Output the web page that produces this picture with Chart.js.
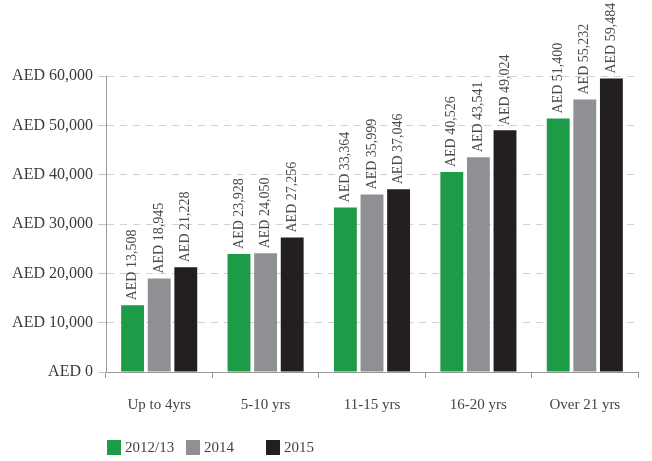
<!DOCTYPE html>
<html>
<head>
<meta charset="utf-8">
<script src="https://cdn.jsdelivr.net/npm/chart.js@4.4.1/dist/chart.umd.min.js"></script>
<style>
  html, body { margin: 0; padding: 0; background: #fff; }
  #wrap { position: relative; width: 652px; height: 461px; }
  #legend { position: absolute; left: 0; top: 0; width: 652px; height: 461px; pointer-events: none;
    font-family: "Liberation Serif", "DejaVu Serif", serif; font-size: 15px; color: #444; }
  .box { position: absolute; width: 14px; height: 15px; top: 440px; }
  .lbl { position: absolute; top: 439px; line-height: 17px; }
</style>
</head>
<body>
<div id="wrap">
  <canvas id="chart" width="652" height="461"></canvas>
  <div id="legend"></div>
</div>
<script>
  /* data */
  const categories = ["Up to 4yrs", "5-10 yrs", "11-15 yrs", "16-20 yrs", "Over 21 yrs"];
  const seriesNames = ["2012/13", "2014", "2015"];
  const values2012 = [13508, 23928, 33364, 40526, 51400];
  const values2014 = [18945, 24050, 35999, 43541, 55232];
  const values2015 = [21228, 27256, 37046, 49024, 59484];
  const yTicks = [0, 10000, 20000, 30000, 40000, 50000, 60000];

  const COLORS = ["#1e9b46", "#8f9094", "#231f20"];
  const FONT = "'Liberation Serif', 'DejaVu Serif', serif";
  const fmt = (v) => "AED " + new Intl.NumberFormat("en-US").format(v);

  // rotated value labels above each bar
  const barLabels = {
    id: "barLabels",
    afterDatasetsDraw(chart) {
      const ctx = chart.ctx;
      ctx.save();
      ctx.font = "14px " + FONT;
      ctx.fillStyle = "#4a4a4a";
      ctx.textAlign = "left";
      ctx.textBaseline = "middle";
      chart.data.datasets.forEach((ds, i) => {
        chart.getDatasetMeta(i).data.forEach((bar, j) => {
          ctx.save();
          ctx.translate(bar.x, bar.y - 5);
          ctx.rotate(-Math.PI / 2);
          ctx.fillText(fmt(ds.data[j]), 0, 0);
          ctx.restore();
        });
      });
      ctx.restore();
    }
  };

  const datasets = [values2012, values2014, values2015].map((data, i) => ({
    label: seriesNames[i],
    data,
    backgroundColor: COLORS[i],
    borderWidth: 0,
    categoryPercentage: 0.75,
    barPercentage: 0.86
  }));

  new Chart(document.getElementById("chart"), {
    type: "bar",
    data: { labels: categories, datasets },
    options: {
      responsive: false,
      animation: false,
      layout: { padding: { top: 76, right: 14, left: 0, bottom: 0 } },
      plugins: { legend: { display: false }, tooltip: { enabled: false } },
      scales: {
        x: {
          afterFit: (s) => { s.height = 89; },
          grid: { offset: true, drawOnChartArea: false, tickLength: 6, color: "#999", lineWidth: 1 },
          border: { color: "#999", width: 1 },
          ticks: { color: "#444", font: { family: FONT, size: 15 }, padding: 18 }
        },
        y: {
          min: 0,
          max: 60000,
          afterFit: (s) => { s.width = 106; },
          afterBuildTicks: (s) => { s.ticks = yTicks.map((v) => ({ value: v })); },
          grid: { color: "#d2d2d2", tickLength: 8, tickColor: "#c4c4c4", lineWidth: 1 },
          border: { color: "#999", width: 1, dash: [7, 6] },
          ticks: {
            color: "#3a3a3a",
            font: { family: FONT, size: 16 },
            padding: 5,
            callback: (v) => fmt(v)
          }
        }
      }
    },
    plugins: [barLabels]
  });

  // legend placed like the reference
  const legendPos = [107, 186, 266];
  const legend = document.getElementById("legend");
  seriesNames.forEach((name, i) => {
    const b = document.createElement("div");
    b.className = "box";
    b.style.left = legendPos[i] + "px";
    b.style.background = COLORS[i];
    legend.appendChild(b);
    const t = document.createElement("div");
    t.className = "lbl";
    t.style.left = (legendPos[i] + 18) + "px";
    t.textContent = name;
    legend.appendChild(t);
  });
</script>
</body>
</html>
